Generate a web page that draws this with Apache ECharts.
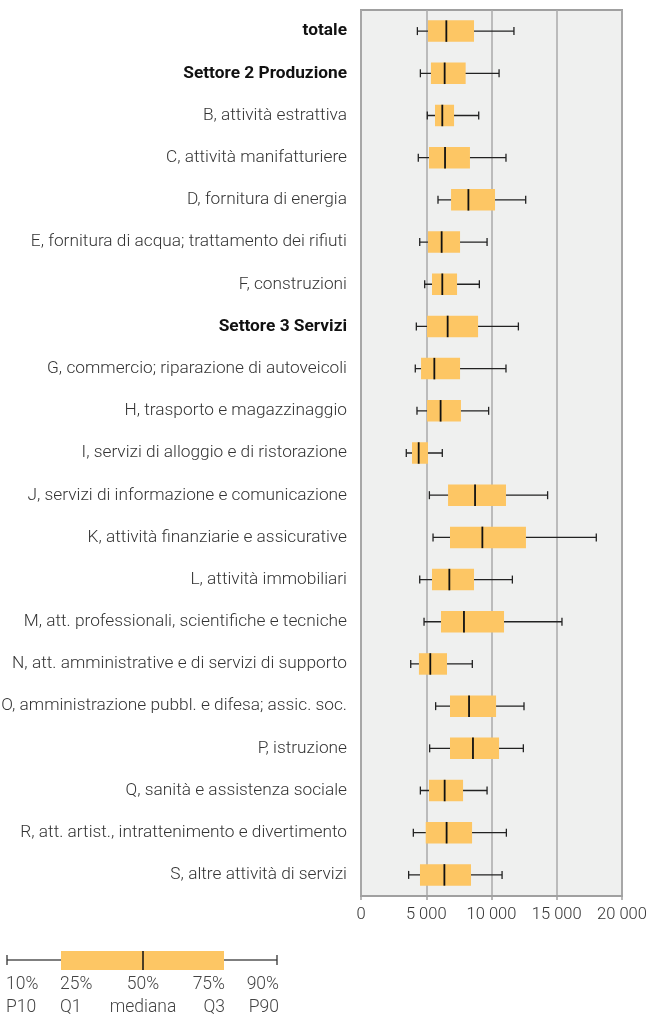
<!DOCTYPE html>
<html>
<head>
<meta charset="utf-8">
<script src="https://cdn.jsdelivr.net/npm/echarts@6/dist/echarts.min.js"></script>
<style>
  html, body { margin: 0; padding: 0; background: #fff; }
  #chart-container { width: 650px; height: 1015px; }
</style>
</head>
<body>
<div id="chart-container"></div>
<script>
var dom = document.getElementById('chart-container');
var myChart = echarts.init(dom, null, { renderer: 'canvas' });

// categorie (dall'alto in basso)
const categories = [
  'totale',
  'Settore 2 Produzione',
  'B, attività estrattiva',
  'C, attività manifatturiere',
  'D, fornitura di energia',
  'E, fornitura di acqua; trattamento dei rifiuti',
  'F, construzioni',
  'Settore 3 Servizi',
  'G, commercio; riparazione di autoveicoli',
  'H, trasporto e magazzinaggio',
  'I, servizi di alloggio e di ristorazione',
  'J, servizi di informazione e comunicazione',
  'K, attività finanziarie e assicurative',
  'L, attività immobiliari',
  'M, att. professionali, scientifiche e tecniche',
  'N, att. amministrative e di servizi di supporto',
  'O, amministrazione pubbl. e difesa; assic. soc.',
  'P, istruzione',
  'Q, sanità e assistenza sociale',
  'R, att. artist., intrattenimento e divertimento',
  'S, altre attività di servizi'
];
const boldRows = ['totale', 'Settore 2 Produzione', 'Settore 3 Servizi'];

// percentili
const p10    = [4320, 4550, 5080, 4390, 5900, 4500, 4880, 4240, 4160, 4290, 3470, 5240, 5520, 4500, 4830, 3810, 5720, 5260, 4550, 4010, 3650];
const q1     = [5130, 5360, 5670, 5210, 6900, 5130, 5440, 5060, 4600, 5060, 3910, 6670, 6820, 5440, 6130, 4440, 6820, 6820, 5210, 4960, 4520];
const median = [6540, 6410, 6230, 6440, 8230, 6180, 6230, 6640, 5620, 6100, 4420, 8740, 9300, 6770, 7890, 5310, 8280, 8580, 6410, 6560, 6390];
const q3     = [8660, 8020, 7130, 8350, 10270, 7590, 7360, 8970, 7590, 7660, 5130, 11110, 12640, 8660, 10960, 6590, 10350, 10580, 7820, 8510, 8430];
const p90    = [11720, 10580, 9020, 11110, 12620, 9660, 9070, 12060, 11110, 9780, 6230, 14300, 18030, 11600, 15400, 8530, 12490, 12440, 9660, 11140, 10810];

// tick asse x
const xTicks = [0, 5000, 10000, 15000, 20000];

const BOX_COLOR = '#fdc664';
const LINE_COLOR = '#222';
const LABEL_COLOR = '#333';

const seriesData = categories.map((c, i) => [i, p10[i], q1[i], median[i], q3[i], p90[i]]);

function fmtThousands(v) {
  return String(v).replace(/\B(?=(\d{3})+(?!\d))/g, ' ');
}

function renderBox(params, api) {
  const idx = api.value(0);
  const pLo = api.coord([api.value(1), idx]);
  const pQ1 = api.coord([api.value(2), idx]);
  const pMed = api.coord([api.value(3), idx]);
  const pQ3 = api.coord([api.value(4), idx]);
  const pHi = api.coord([api.value(5), idx]);
  const y = pMed[1];
  const boxH = 21.5;
  const capH = 8;
  const lineStyle = { stroke: LINE_COLOR, lineWidth: 1.3 };
  return {
    type: 'group',
    children: [
      { type: 'line', shape: { x1: pLo[0], y1: y, x2: pHi[0], y2: y }, style: lineStyle },
      { type: 'line', shape: { x1: pLo[0], y1: y - capH / 2, x2: pLo[0], y2: y + capH / 2 }, style: lineStyle },
      { type: 'line', shape: { x1: pHi[0], y1: y - capH / 2, x2: pHi[0], y2: y + capH / 2 }, style: lineStyle },
      { type: 'rect', shape: { x: pQ1[0], y: y - boxH / 2, width: pQ3[0] - pQ1[0], height: boxH }, style: { fill: BOX_COLOR } },
      { type: 'line', shape: { x1: pMed[0], y1: y - boxH / 2, x2: pMed[0], y2: y + boxH / 2 }, style: { stroke: '#111', lineWidth: 1.8 } }
    ]
  };
}

// legenda in basso
const legendY = 960;
const legendTextStyle = { fill: '#444', font: '300 17.5px Roboto' };
const legendLabels = [
  { x: 6, a: 'left', t1: '10%', t2: 'P10' },
  { x: 60, a: 'left', t1: '25%', t2: 'Q1' },
  { x: 143, a: 'center', t1: '50%', t2: 'mediana' },
  { x: 225, a: 'right', t1: '75%', t2: 'Q3' },
  { x: 279, a: 'right', t1: '90%', t2: 'P90' }
];
const legendGraphic = [
  { type: 'line', shape: { x1: 7, y1: legendY, x2: 277, y2: legendY }, style: { stroke: '#555', lineWidth: 1.3 } },
  { type: 'line', shape: { x1: 7, y1: legendY - 5, x2: 7, y2: legendY + 5 }, style: { stroke: '#333', lineWidth: 1.3 } },
  { type: 'line', shape: { x1: 277, y1: legendY - 5, x2: 277, y2: legendY + 5 }, style: { stroke: '#333', lineWidth: 1.3 } },
  { type: 'rect', shape: { x: 61, y: 951, width: 163, height: 19 }, style: { fill: BOX_COLOR } },
  { type: 'line', shape: { x1: 143, y1: 951, x2: 143, y2: 970 }, style: { stroke: '#111', lineWidth: 1.5 } }
];
legendLabels.forEach(l => {
  legendGraphic.push({ type: 'text', x: l.x, y: 985, style: Object.assign({ text: l.t1, textAlign: l.a, textVerticalAlign: 'middle' }, legendTextStyle) });
  legendGraphic.push({ type: 'text', x: l.x, y: 1008, style: Object.assign({ text: l.t2, textAlign: l.a, textVerticalAlign: 'middle' }, legendTextStyle) });
});

var option = {
  animation: false,
  textStyle: { fontFamily: 'Roboto' },
  grid: {
    left: 361,
    right: 28,
    top: 10,
    bottom: 119,
    outerBoundsMode: 'none',
    containLabel: false,
    show: true,
    backgroundColor: '#eff0ef',
    borderColor: '#a0a0a0',
    borderWidth: 2
  },
  xAxis: {
    type: 'value',
    min: xTicks[0],
    max: xTicks[xTicks.length - 1],
    interval: xTicks[1] - xTicks[0],
    axisLine: { show: true, lineStyle: { color: '#a0a0a0', width: 2 } },
    axisTick: { show: true, length: 4, lineStyle: { color: '#a0a0a0', width: 1.5 } },
    splitLine: { show: true, lineStyle: { color: '#aaaaaa', width: 1.5 } },
    axisLabel: {
      color: LABEL_COLOR,
      fontSize: 16.5,
      fontWeight: 300,
      margin: 10,
      formatter: v => fmtThousands(v)
    }
  },
  yAxis: {
    type: 'category',
    inverse: true,
    data: categories,
    axisLine: { show: false },
    axisTick: { show: false },
    splitLine: { show: false },
    axisLabel: {
      margin: 14,
      color: LABEL_COLOR,
      fontSize: 17.3,
      fontWeight: 300,
      formatter: v => boldRows.includes(v) ? '{b|' + v + '}' : v,
      rich: {
        b: { fontSize: 17.3, fontWeight: 'bold', color: '#111', fontFamily: 'Roboto' }
      }
    }
  },
  series: [{
    type: 'custom',
    renderItem: renderBox,
    encode: { y: 0, x: [1, 2, 3, 4, 5] },
    data: seriesData
  }],
  graphic: legendGraphic
};

myChart.setOption(option);
window.addEventListener('resize', myChart.resize);
</script>
</body>
</html>
